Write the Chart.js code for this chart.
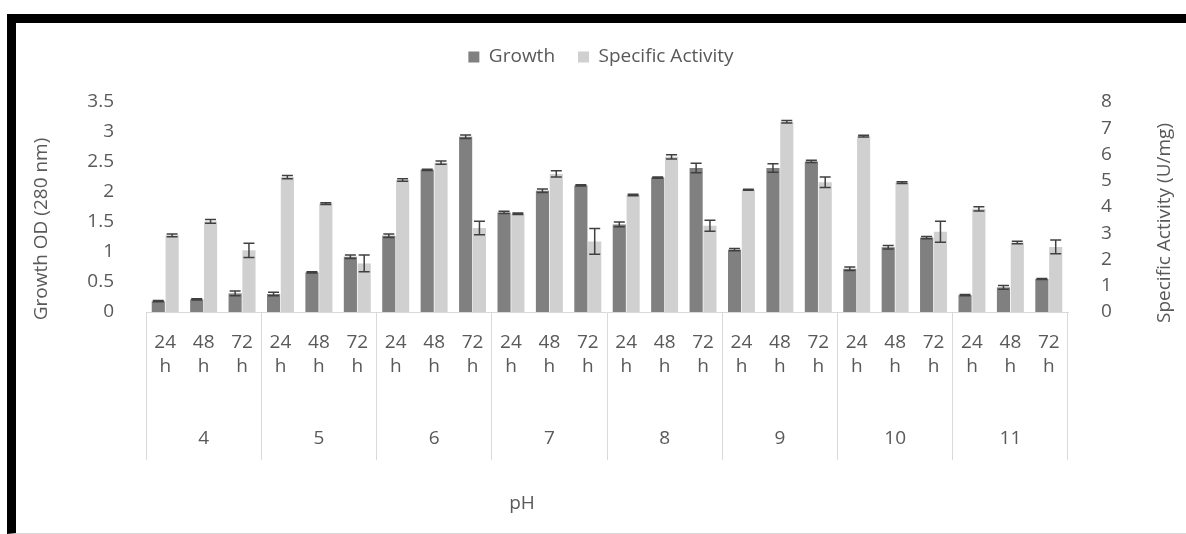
<!DOCTYPE html>
<html>
<head>
<meta charset="utf-8">
<script src="https://cdn.jsdelivr.net/npm/chart.js@4.4.0/dist/chart.umd.min.js"></script>
<style>
    html, body { margin: 0; padding: 0; background: #fff; }
    #frame {
        position: absolute; left: 7px; top: 14px;
        width: 1170px; height: 510px;
        border-top: 9px solid #000; border-left: 9px solid #000;
        border-bottom: 1px solid #d9d9d9;
    }
    #wrap { position: relative; width: 1170px; height: 510px; }
</style>
</head>
<body>
<div id="frame"><div id="wrap"><canvas id="phChart"></canvas></div></div>
<script>
// pH groups and incubation times
const phValues = ['4', '5', '6', '7', '8', '9', '10', '11'];
const hours = ['24 h', '48 h', '72 h'];

// Growth OD (280 nm), left axis
const growth = [0.18, 0.21, 0.31, 0.30, 0.66, 0.92, 1.27, 2.37, 2.92, 1.66, 2.02, 2.11,
                1.46, 2.24, 2.40, 1.04, 2.40, 2.51, 0.72, 1.08, 1.24, 0.28, 0.41, 0.55];
const growthErr = [0.01, 0.01, 0.04, 0.03, 0.01, 0.03, 0.03, 0.01, 0.03, 0.02, 0.03, 0.01,
                   0.04, 0.01, 0.08, 0.02, 0.07, 0.02, 0.03, 0.03, 0.02, 0.01, 0.03, 0.01];

// Specific Activity (U/mg), right axis
const activity = [2.92, 3.45, 2.35, 5.14, 4.13, 1.85, 5.03, 5.69, 3.20, 3.74, 5.26, 2.69,
                  4.46, 5.91, 3.29, 4.66, 7.25, 4.94, 6.70, 4.93, 3.06, 3.93, 2.65, 2.48];
const activityErr = [0.05, 0.07, 0.27, 0.06, 0.03, 0.32, 0.05, 0.06, 0.26, 0.03, 0.12, 0.49,
                     0.03, 0.08, 0.21, 0.02, 0.05, 0.20, 0.03, 0.03, 0.40, 0.08, 0.05, 0.26];

const leftTicks = { min: 0, max: 3.5, step: 0.5 };
const rightTicks = { min: 0, max: 8, step: 1 };

const textColor = '#595959';
const fontFamily = '"Open Sans", sans-serif';

// two-row labels: time on top, pH under the middle bar of each group
const labels = [];
phValues.forEach(p => {
    hours.forEach((h, j) => {
        const parts = h.split(' ');
        labels.push(j === 1 ? [parts[0], parts[1], '', '', p] : [parts[0], parts[1]]);
    });
});

// draws the +/- error bars from the dataset's errors
const errorBars = {
    id: 'errorBars',
    afterDatasetsDraw(chart) {
        const ctx = chart.ctx;
        ctx.save();
        ctx.strokeStyle = '#404040';
        ctx.lineWidth = 1.5;
        chart.data.datasets.forEach((ds, di) => {
            const meta = chart.getDatasetMeta(di);
            const scale = chart.scales[ds.yAxisID];
            meta.data.forEach((bar, i) => {
                const top = scale.getPixelForValue(ds.data[i] + ds.errors[i]);
                const bottom = scale.getPixelForValue(ds.data[i] - ds.errors[i]);
                const cap = 5.5;
                ctx.beginPath();
                ctx.moveTo(bar.x, top);
                ctx.lineTo(bar.x, bottom);
                ctx.moveTo(bar.x - cap, top);
                ctx.lineTo(bar.x + cap, top);
                ctx.moveTo(bar.x - cap, bottom);
                ctx.lineTo(bar.x + cap, bottom);
                ctx.stroke();
            });
        });
        ctx.restore();
    }
};

// axis titles (right one reads bottom-to-top like the left one)
const axisTitles = {
    id: 'axisTitles',
    afterDraw(chart) {
        const { ctx, chartArea } = chart;
        ctx.save();
        ctx.fillStyle = textColor;
        ctx.font = '19px ' + fontFamily;
        ctx.textAlign = 'center';
        ctx.textBaseline = 'middle';

        ctx.save();
        ctx.translate(chartArea.left - 104, chartArea.top + 127);
        ctx.rotate(-Math.PI / 2);
        ctx.fillText('Growth OD (280 nm)', 0, 0);
        ctx.restore();

        ctx.save();
        ctx.translate(chartArea.right + 97, chartArea.top + 121);
        ctx.rotate(-Math.PI / 2);
        ctx.fillText('Specific Activity (U/mg)', 0, 0);
        ctx.restore();

        ctx.fillText('pH', (chartArea.left + chartArea.right) / 2 - 85, chartArea.bottom + 192);
        ctx.restore();
    }
};

document.addEventListener('DOMContentLoaded', function() {
    const ctx = document.getElementById('phChart').getContext('2d');

    new Chart(ctx, {
        type: 'bar',
        data: {
            labels: labels,
            datasets: [
                {
                    label: 'Growth',
                    data: growth,
                    errors: growthErr,
                    yAxisID: 'y',
                    backgroundColor: '#808080',
                    borderWidth: 0,
                    categoryPercentage: 0.72,
                    barPercentage: 0.95
                },
                {
                    label: 'Specific Activity',
                    data: activity,
                    errors: activityErr,
                    yAxisID: 'y1',
                    backgroundColor: '#d0d0d0',
                    borderWidth: 0,
                    categoryPercentage: 0.72,
                    barPercentage: 0.95
                }
            ]
        },
        options: {
            responsive: true,
            maintainAspectRatio: false,
            animation: false,
            layout: { padding: { top: 1.5, left: 0, right: 0, bottom: 0 } },
            plugins: {
                legend: {
                    position: 'top',
                    labels: {
                        color: textColor,
                        font: { family: fontFamily, size: 19 },
                        boxWidth: 11,
                        boxHeight: 11,
                        padding: 23
                    }
                },
                // empty spacer between legend and plot
                title: {
                    display: true,
                    text: '',
                    weight: 500,
                    font: { size: 10, lineHeight: 1 },
                    padding: { top: 15.5, bottom: 0 }
                },
                tooltip: { enabled: false }
            },
            scales: {
                x: {
                    afterFit: function(scale) { scale.height = 221; },
                    border: { display: true, color: '#d9d9d9', width: 1 },
                    grid: {
                        display: true,
                        offset: true,
                        drawOnChartArea: false,
                        drawTicks: true,
                        tickLength: 148,
                        color: function(c) {
                            return (c.type !== 'tick' || c.index % 3 === 0) ? '#d9d9d9' : 'rgba(0,0,0,0)';
                        }
                    },
                    ticks: {
                        autoSkip: false,
                        maxRotation: 0,
                        minRotation: 0,
                        padding: -129,
                        color: textColor,
                        font: { family: fontFamily, size: 19, lineHeight: 1.26 }
                    }
                },
                y: {
                    position: 'left',
                    min: leftTicks.min,
                    max: leftTicks.max,
                    afterFit: function(scale) { scale.width = 130; },
                    border: { display: false },
                    grid: { display: false },
                    ticks: {
                        stepSize: leftTicks.step,
                        padding: 24,
                        color: textColor,
                        font: { family: fontFamily, size: 19 },
                        callback: function(value) { return String(value); }
                    }
                },
                y1: {
                    position: 'right',
                    min: rightTicks.min,
                    max: rightTicks.max,
                    afterFit: function(scale) { scale.width = 118; },
                    border: { display: false },
                    grid: { display: false },
                    ticks: {
                        stepSize: rightTicks.step,
                        padding: 25,
                        color: textColor,
                        font: { family: fontFamily, size: 19 }
                    }
                }
            }
        },
        plugins: [errorBars, axisTitles]
    });
});
</script>
</body>
</html>
